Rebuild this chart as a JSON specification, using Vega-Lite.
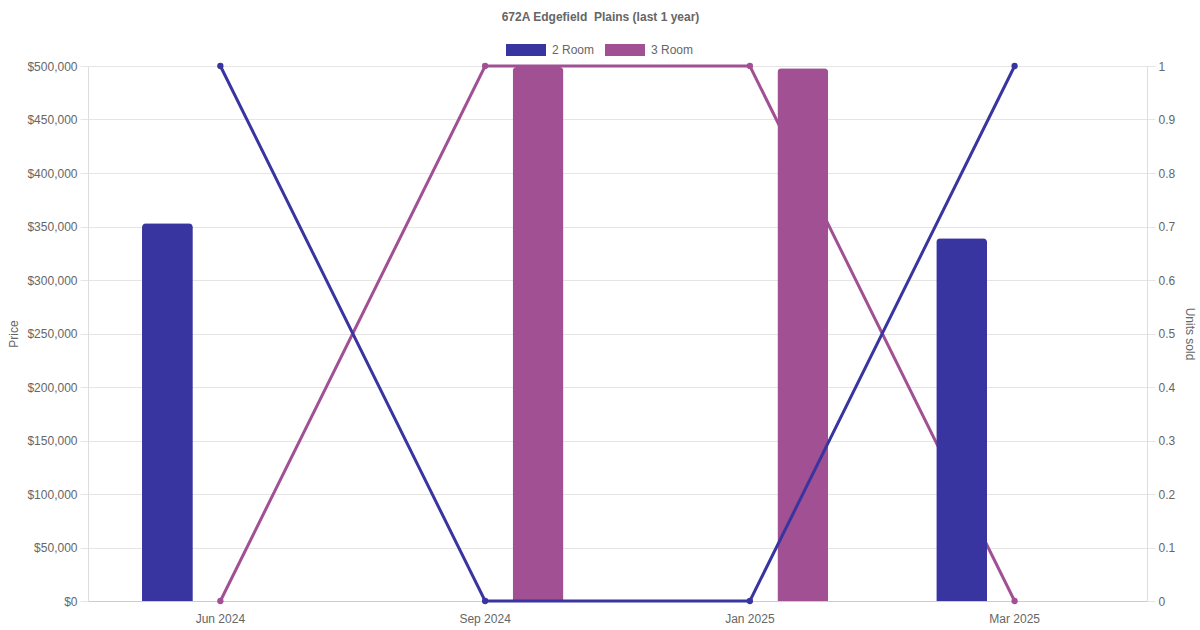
{
  "$schema": "https://vega.github.io/schema/vega-lite/v6.json",
  "width": 1059,
  "height": 535,
  "autosize": "none",
  "padding": {"left": 88, "top": 66, "right": 53, "bottom": 29},
  "background": "white",
  "title": {
    "text": "672A Edgefield\u00a0 Plains (last 1 year)",
    "fontSize": 12,
    "fontWeight": "bold",
    "font": "Liberation Sans",
    "color": "#666666",
    "anchor": "middle",
    "dx": -17,
    "offset": 6
  },
  "data": {
    "values": [
      {"month": "Jun 2024", "type": "2 Room", "price": 353000, "units": 1},
      {"month": "Jun 2024", "type": "3 Room", "price": null, "units": 0},
      {"month": "Sep 2024", "type": "2 Room", "price": null, "units": 0},
      {"month": "Sep 2024", "type": "3 Room", "price": 499000, "units": 1},
      {"month": "Jan 2025", "type": "2 Room", "price": null, "units": 0},
      {"month": "Jan 2025", "type": "3 Room", "price": 498000, "units": 1},
      {"month": "Mar 2025", "type": "2 Room", "price": 339000, "units": 1},
      {"month": "Mar 2025", "type": "3 Room", "price": null, "units": 0}
    ]
  },
  "encoding": {
    "x": {
      "field": "month",
      "type": "nominal",
      "sort": ["Jun 2024", "Sep 2024", "Jan 2025", "Mar 2025"],
      "scale": {"paddingInner": 0, "paddingOuter": 0},
      "axis": {
        "title": null,
        "labelAngle": 0,
        "ticks": false,
        "grid": false,
        "labelPadding": 12,
        "domainColor": "#cccccc"
      }
    }
  },
  "layer": [
    {
      "transform": [{"filter": "datum.type === '3 Room'"}],
      "mark": {
        "type": "line",
        "color": "#A05093",
        "strokeWidth": 3,
        "point": {"filled": true, "size": 40, "color": "#A05093"}
      },
      "encoding": {
        "y": {
          "field": "units",
          "type": "quantitative",
          "scale": {"domain": [0, 1]},
          "axis": {
            "orient": "right",
            "title": "Units sold",
            "values": [0, 0.1, 0.2, 0.3, 0.4, 0.5, 0.6, 0.7, 0.8, 0.9, 1],
            "format": ".1~f",
            "grid": false,
            "titlePadding": 8
          }
        }
      }
    },
    {
      "mark": {"type": "bar", "cornerRadiusTopLeft": 4, "cornerRadiusTopRight": 4},
      "encoding": {
        "xOffset": {
          "field": "type",
          "type": "nominal",
          "scale": {"paddingInner": 0.52, "paddingOuter": 0.51}
        },
        "y": {
          "field": "price",
          "type": "quantitative",
          "scale": {"domain": [0, 500000]},
          "axis": {
            "orient": "left",
            "title": "Price",
            "values": [0, 50000, 100000, 150000, 200000, 250000, 300000, 350000, 400000, 450000, 500000],
            "format": "$,.0f",
            "grid": true,
            "titlePadding": 6
          }
        },
        "color": {
          "field": "type",
          "type": "nominal",
          "scale": {"domain": ["2 Room", "3 Room"], "range": ["#3935A0", "#A05093"]},
          "legend": {
            "title": null,
            "orient": "none",
            "direction": "horizontal",
            "legendX": 418,
            "legendY": -36,
            "symbolType": "M-1,-0.3H1V0.3H-1Z",
            "symbolSize": 1600,
            "symbolStrokeWidth": 0,
            "labelOffset": 6,
            "columnPadding": 10,
            "padding": 0
          }
        }
      }
    },
    {
      "transform": [{"filter": "datum.type === '2 Room'"}],
      "mark": {
        "type": "line",
        "color": "#3935A0",
        "strokeWidth": 3,
        "point": {"filled": true, "size": 40, "color": "#3935A0"}
      },
      "encoding": {
        "y": {
          "field": "units",
          "type": "quantitative",
          "scale": {"domain": [0, 1]},
          "axis": null
        }
      }
    }
  ],
  "resolve": {"scale": {"y": "independent"}},
  "config": {
    "view": {"stroke": null},
    "font": "Liberation Sans",
    "axis": {
      "labelFont": "Liberation Sans",
      "labelFontSize": 12,
      "labelColor": "#666666",
      "titleFont": "Liberation Sans",
      "titleFontSize": 12,
      "titleFontWeight": "normal",
      "titleColor": "#666666",
      "gridColor": "#e5e5e5",
      "tickColor": "#e5e5e5",
      "tickSize": 8,
      "domainColor": "#dddddd",
      "labelPadding": 3
    },
    "legend": {
      "labelFont": "Liberation Sans",
      "labelFontSize": 12,
      "labelColor": "#666666"
    }
  }
}
